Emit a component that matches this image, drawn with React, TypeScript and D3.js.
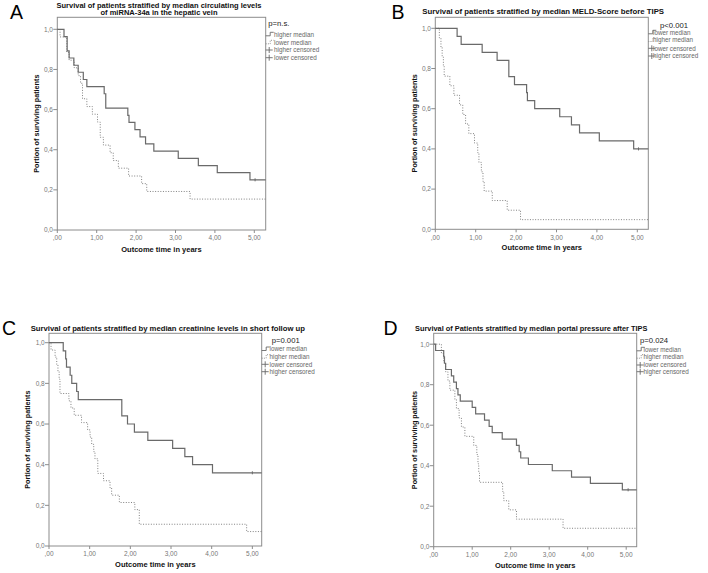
import React from "react";
import * as d3 from "d3";

// ---------- DATA ----------
const xTickValues = [0, 1, 2, 3, 4, 5];
const xTickLabels = [",00", "1,00", "2,00", "3,00", "4,00", "5,00"];
const yTickValues = [0, 0.2, 0.4, 0.6, 0.8, 1.0];
const yTickLabels = ["0,0", "0,2", "0,4", "0,6", "0,8", "1,0"];

const panelLetters = ["A", "B", "C", "D"];
const panelTitles = [
  ["Survival of patients stratified by median circulating levels", "of miRNA-34a in the hepatic vein"],
  ["Survival of patients stratified by median MELD-Score before TIPS"],
  ["Survival of patients stratified by median creatinine levels in short follow up"],
  ["Survival of Patients stratified by median portal pressure after TIPS"],
];
const pValues = ["p=n.s.", "p<0.001", "p=0.001", "p=0.024"];
const legendLabels = [
  ["higher median", "lower median", "higher censored", "lower censored"],
  ["lower median", "higher median", "lower censored", "higher censored"],
  ["lower median", "higher median", "lower censored", "higher censored"],
  ["lower median", "higher median", "lower censored", "higher censored"],
];

// [time in years, survival]
const panelASolid = [[0, 1], [0.17, 0.964], [0.25, 0.893], [0.3, 0.857], [0.42, 0.821], [0.53, 0.786], [0.66, 0.75], [0.75, 0.714], [1.19, 0.679], [1.23, 0.607], [1.79, 0.571], [1.82, 0.536], [1.97, 0.5], [2.1, 0.464], [2.24, 0.429], [2.45, 0.393], [3.07, 0.357], [3.58, 0.321], [4.06, 0.286], [4.89, 0.25]];
const panelADotted = [[0, 1], [0.07, 0.962], [0.24, 0.885], [0.3, 0.846], [0.43, 0.808], [0.53, 0.769], [0.59, 0.731], [0.64, 0.654], [0.75, 0.615], [0.89, 0.577], [1.02, 0.538], [1.09, 0.462], [1.17, 0.423], [1.34, 0.385], [1.42, 0.346], [1.55, 0.308], [1.81, 0.269], [2.14, 0.231], [2.27, 0.192], [3.37, 0.154]];
const panelACensor = [5.02];

const panelBSolid = [[0, 1], [0.54, 0.96], [0.64, 0.92], [1.16, 0.88], [1.53, 0.84], [1.82, 0.76], [1.96, 0.72], [2.26, 0.68], [2.28, 0.64], [2.46, 0.6], [3.08, 0.56], [3.37, 0.52], [3.57, 0.48], [4.06, 0.44], [4.91, 0.4]];
const panelBDotted = [[0, 1], [0.1, 0.952], [0.14, 0.905], [0.17, 0.857], [0.2, 0.81], [0.22, 0.762], [0.36, 0.714], [0.46, 0.667], [0.6, 0.619], [0.68, 0.571], [0.75, 0.524], [0.83, 0.476], [0.97, 0.429], [1.05, 0.381], [1.08, 0.333], [1.14, 0.286], [1.18, 0.238], [1.21, 0.19], [1.41, 0.143], [1.78, 0.095], [2.11, 0.048]];
const panelBCensor = [5.03];

const panelCSolid = [[0, 1], [0.35, 0.96], [0.41, 0.92], [0.43, 0.88], [0.52, 0.84], [0.56, 0.8], [0.68, 0.76], [0.72, 0.72], [1.79, 0.64], [1.93, 0.6], [2.1, 0.56], [2.43, 0.52], [3.04, 0.48], [3.34, 0.44], [3.53, 0.4], [4.02, 0.36]];
const panelCDotted = [[0, 1], [0.05, 0.964], [0.15, 0.929], [0.19, 0.893], [0.22, 0.857], [0.25, 0.821], [0.27, 0.75], [0.49, 0.714], [0.54, 0.679], [0.62, 0.643], [0.8, 0.607], [0.95, 0.571], [1.01, 0.536], [1.05, 0.5], [1.1, 0.464], [1.13, 0.429], [1.2, 0.357], [1.34, 0.321], [1.5, 0.286], [1.54, 0.25], [1.73, 0.214], [2.11, 0.179], [2.22, 0.107], [4.86, 0.071]];
const panelCCensor = [5.0];

const panelDSolid = [[0, 1], [0.05, 0.969], [0.26, 0.938], [0.28, 0.906], [0.31, 0.875], [0.46, 0.844], [0.52, 0.813], [0.59, 0.781], [0.63, 0.75], [0.69, 0.719], [1.0, 0.688], [1.09, 0.656], [1.32, 0.625], [1.44, 0.594], [1.52, 0.563], [1.78, 0.531], [2.15, 0.5], [2.22, 0.469], [2.26, 0.438], [2.46, 0.406], [3.08, 0.375], [3.58, 0.344], [4.07, 0.313], [4.9, 0.281]];
const panelDDotted = [[0, 1], [0.2, 0.955], [0.26, 0.909], [0.31, 0.864], [0.37, 0.818], [0.42, 0.773], [0.55, 0.727], [0.59, 0.682], [0.66, 0.636], [0.72, 0.591], [0.81, 0.545], [1.04, 0.5], [1.12, 0.455], [1.15, 0.409], [1.17, 0.364], [1.19, 0.318], [1.79, 0.273], [1.82, 0.227], [1.95, 0.182], [2.15, 0.136], [3.36, 0.091]];
const panelDCensor = [5.05];

const solidSeries = [panelASolid, panelBSolid, panelCSolid, panelDSolid];
const dottedSeries = [panelADotted, panelBDotted, panelCDotted, panelDDotted];
const censorSeries = [panelACensor, panelBCensor, panelCCensor, panelDCensor];

// ---------- LAYOUT ----------
const layouts = [
  { left: 57.3, right: 265.7, top: 17.3, bottom: 230, y1: 29.3, perYear: 39.4,
    letter: [10, 19], titleY: [7.9, 15.0], titleW: [205, 117], titleCx: 159, titleFs: 6.8,
    yLabX: 36.8, xLabY: 252.3, pPos: [268.3, 26.1], legX: 274, legY: [34.3, 42.3, 50, 57.7] },
  { left: 435.3, right: 648.3, top: 17.3, bottom: 229.3, y1: 28.3, perYear: 40.4,
    letter: [391.5, 19], titleY: [14.4], titleW: [241.7], titleCx: 543.2, titleFs: 7.3,
    yLabX: 414.5, xLabY: 250.4, pPos: [660, 27.8], legX: 653, legY: [32.3, 40, 48.3, 56] },
  { left: 49, right: 261.7, top: 333.3, bottom: 546, y1: 342.7, perYear: 40.67,
    letter: [2, 335], titleY: [331.3], titleW: [274.3], titleCx: 167.8, titleFs: 7.3,
    yLabX: 27.2, xLabY: 567, pPos: [271.7, 343.4], legX: 269.5, legY: [349, 356.7, 364.3, 371.7] },
  { left: 433.7, right: 636.7, top: 333.3, bottom: 546.7, y1: 344.2, perYear: 38.5,
    letter: [383.5, 335], titleY: [331.3], titleW: [232.3], titleCx: 531.2, titleFs: 7.3,
    yLabX: 414.5, xLabY: 568, pPos: [640, 343.4], legX: 643.5, legY: [349.3, 356.7, 365, 371.7] },
];

const FONT = "'Liberation Sans', Arial, sans-serif";
const LINE = "#6a6a6a";
const FRAME = "#8c8c8c";

function Panel({ i }: { i: number }) {
  const L = layouts[i];
  const xmax = (L.right - L.left) / L.perYear;
  const x = d3.scaleLinear().domain([0, xmax]).range([L.left, L.right]);
  const y = d3.scaleLinear().domain([0, 1]).range([L.bottom, L.y1]);
  const line = d3.line<number[]>().x((d) => x(d[0])).y((d) => y(d[1])).curve(d3.curveStepAfter);

  const extend = (s: number[][]) => [...s, [xmax, s[s.length - 1][1]]];
  const solid = extend(solidSeries[i]);
  const dotted = extend(dottedSeries[i]);
  const lastSolid = solidSeries[i][solidSeries[i].length - 1][1];

  const lx = L.right;
  return (
    <g>
      <text x={L.letter[0]} y={L.letter[1]} fontSize={19.5} fontFamily={FONT} fill="#000">{panelLetters[i]}</text>
      {panelTitles[i].map((t, k) => (
        <text key={k} x={L.titleCx} y={L.titleY[k]} textAnchor="middle" fontSize={L.titleFs} fontWeight="bold"
          fontFamily={FONT} textLength={L.titleW[k]} lengthAdjust="spacingAndGlyphs" fill="#111">{t}</text>
      ))}
      <rect x={L.left} y={L.top} width={L.right - L.left} height={L.bottom - L.top} fill="none" stroke={FRAME} strokeWidth={1} />
      {xTickValues.map((v, k) => (
        <g key={"x" + k}>
          <line x1={x(v)} x2={x(v)} y1={L.bottom} y2={L.bottom + 3} stroke={FRAME} />
          <text x={x(v)} y={L.bottom + 10.3} textAnchor="middle" fontSize={6.5} fontFamily={FONT} fill="#777">{xTickLabels[k]}</text>
        </g>
      ))}
      {yTickValues.map((v, k) => (
        <g key={"y" + k}>
          <line x1={L.left - 4} x2={L.left} y1={y(v)} y2={y(v)} stroke={FRAME} />
          <text x={L.left - 4.3} y={y(v) + 2.3} textAnchor="end" fontSize={6.5} fontFamily={FONT} fill="#777">{yTickLabels[k]}</text>
        </g>
      ))}
      <text x={(L.left + L.right) / 2} y={L.xLabY} textAnchor="middle" fontSize={7.5} fontWeight="bold" fontFamily={FONT} fill="#111">Outcome time in years</text>
      <text transform={`translate(${L.yLabX},${(L.top + L.bottom) / 2}) rotate(-90)`} textAnchor="middle" dominantBaseline="central"
        fontSize={7.25} fontWeight="bold" fontFamily={FONT} fill="#111">Portion of surviving patients</text>

      <path d={line(dotted) || ""} fill="none" stroke="#808080" strokeWidth={1} strokeDasharray="1,1.6" />
      <path d={line(solid) || ""} fill="none" stroke={LINE} strokeWidth={1.2} />
      {censorSeries[i].map((c, k) => (
        <line key={"c" + k} x1={x(c)} x2={x(c)} y1={y(lastSolid) - 1.5} y2={y(lastSolid) + 1.5} stroke={LINE} strokeWidth={1} />
      ))}

      <text x={L.pPos[0]} y={L.pPos[1]} fontSize={7.7} fontFamily={FONT} fill="#222">{pValues[i]}</text>
      {legendLabels[i].map((t, k) => {
        const cy = L.legY[k];
        let sym;
        if (k === 0) {
          sym = <path d={`M${lx},${cy + 1.5}H${lx + 4.5}V${cy - 2}H${lx + 8}`} fill="none" stroke={LINE} strokeWidth={0.9} />;
        } else if (k === 1) {
          sym = <path d={`M${lx},${cy + 1.5}H${lx + 4.5}V${cy - 2}H${lx + 8}`} fill="none" stroke="#888" strokeWidth={0.9} strokeDasharray="1,1.2" />;
        } else {
          sym = (
            <g>
              <line x1={lx} x2={lx + 7} y1={cy} y2={cy} stroke={LINE} strokeWidth={0.9} />
              <line x1={lx + 3.5} x2={lx + 3.5} y1={cy - 3} y2={cy + 3} stroke={LINE} strokeWidth={0.9} />
            </g>
          );
        }
        return (
          <g key={"l" + k}>
            {sym}
            <text x={L.legX} y={cy + 2.2} fontSize={6.3} fontFamily={FONT} fill="#666">{t}</text>
          </g>
        );
      })}
    </g>
  );
}

export default function App() {
  return (
    <svg width={708} height={573} viewBox="0 0 708 573" style={{ position: "absolute", left: 0, top: 0, background: "#fff" }}>
      <rect x={0} y={0} width={708} height={573} fill="#fff" />
      {[0, 1, 2, 3].map((i) => <Panel key={i} i={i} />)}
    </svg>
  );
}
